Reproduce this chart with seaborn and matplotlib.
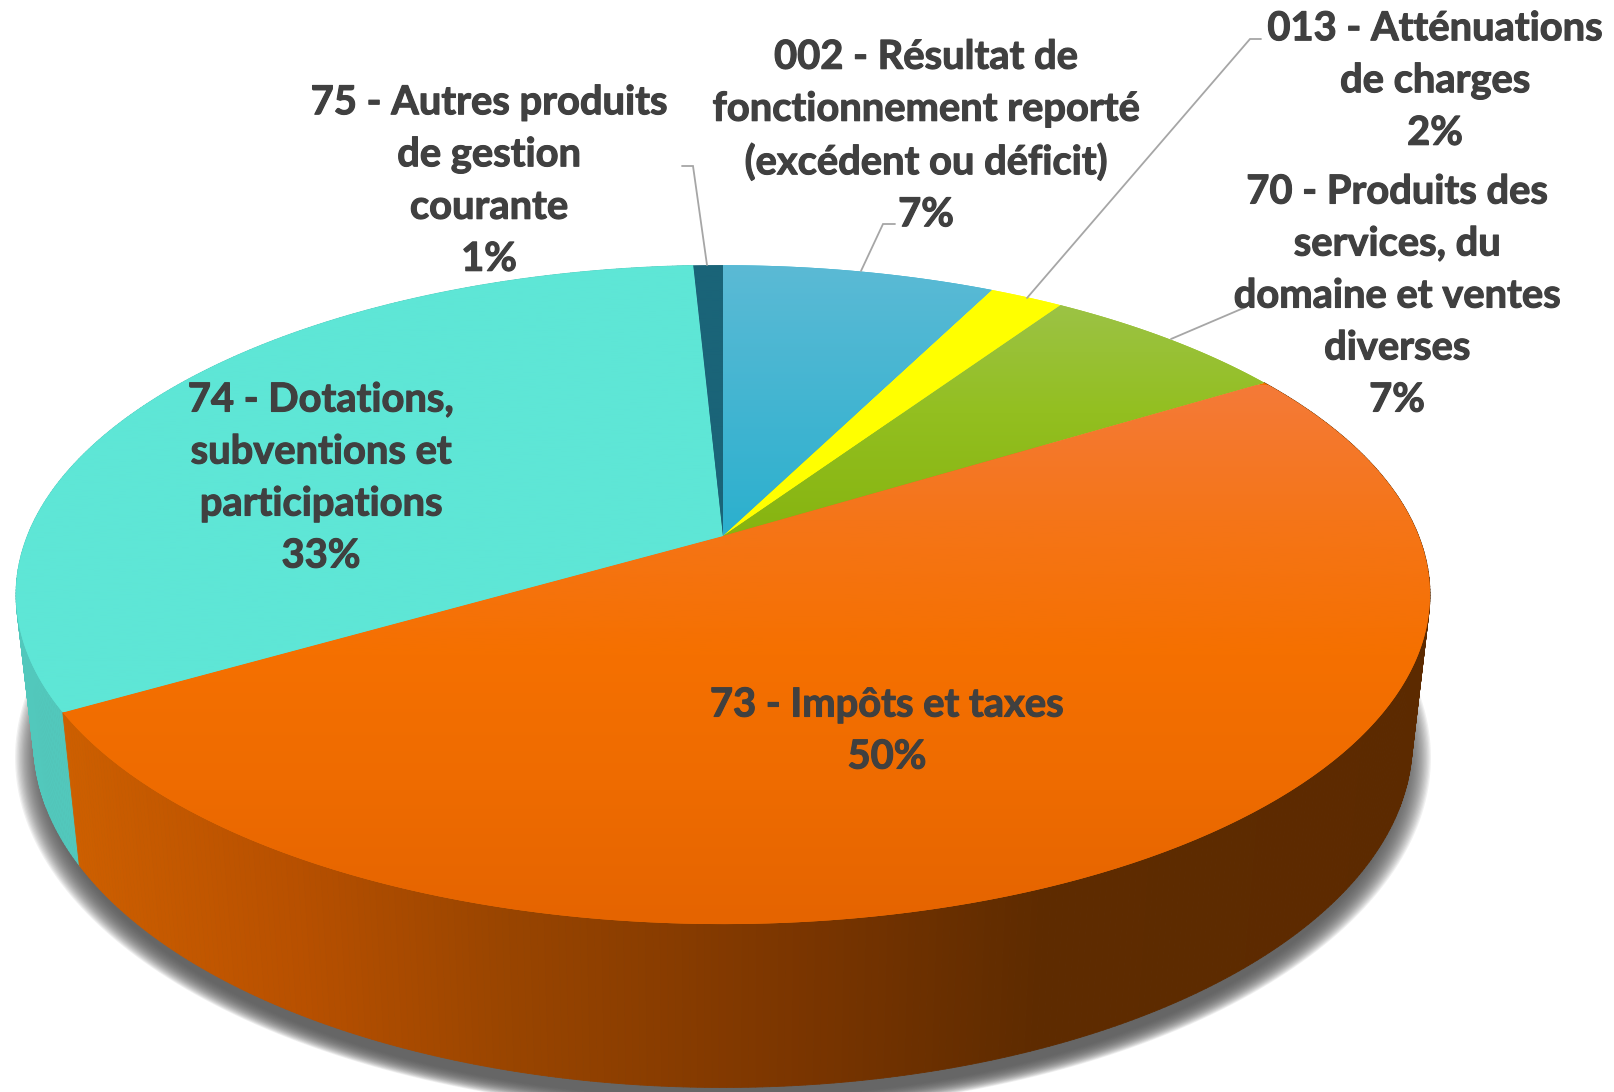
import numpy as np
import matplotlib
matplotlib.use("Agg")
import matplotlib.pyplot as plt
import matplotlib.patheffects as pe
import seaborn as sns
from matplotlib.collections import PolyCollection
from matplotlib.colors import LinearSegmentedColormap, to_rgb
from matplotlib.path import Path
from matplotlib.transforms import Transform

categories = [
    "002 - Résultat de\nfonctionnement reporté\n(excédent ou déficit)",
    "013 - Atténuations\nde charges",
    "70 - Produits des\nservices, du\ndomaine et ventes\ndiverses",
    "73 - Impôts et taxes",
    "74 - Dotations,\nsubventions et\nparticipations",
    "75 - Autres produits\nde gestion\ncourante",
]
values = [7.4, 2.0, 6.8, 50.4, 32.6, 0.8]
percent_labels = ["7%", "2%", "7%", "50%", "33%", "1%"]

label_centres = [(926, 136), (1435, 81), (1397, 296), (887, 731), (321, 478), (489, 181)]
leaders = [
    ([895, 883, 861], [224, 224, 271]),
    ([1261, 1250, 1027], [39, 39, 298]),
    ([1246, 1171], [307, 339]),
    ([682, 693, 707], [166, 166, 265]),
]
top_gradients = [
    ["#5BBAD5", "#2BB0CE"],
    ["#FFFF00", "#FFFF00"],
    ["#9DC34A", "#93BF20", "#86B410"],
    ["#F47A38", "#F57518", "#F57000", "#EE6B00", "#E56400"],
    ["#5EE6D6", "#5EE6D6"],
    ["#1A6478", "#1A6478"],
]

sns.set_theme(style="white")
plt.rcParams["font.family"] = ["Lato", "DejaVu Sans"]


class Perspective(Transform):
    input_dims = 2
    output_dims = 2
    is_affine = False
    has_inverse = False

    def __init__(self, cx, apex_y, a, b, k=0.178):
        super().__init__()
        self.cx, self.apex_y, self.a, self.b, self.k = cx, apex_y, a, b, k

    def transform_non_affine(self, values):
        v = np.asarray(values, dtype=float)
        w = 1 + self.k * v[:, 1]
        return np.column_stack([self.cx + self.a * v[:, 0] / w,
                                self.apex_y - self.b * v[:, 1] / w])

    def transform_path_non_affine(self, path):
        polys = path.transformed(matplotlib.transforms.Affine2D().scale(3000)).to_polygons(closed_only=False)
        verts = np.vstack(polys) / 3000
        return Path(self.transform_non_affine(verts))


fig, ax = plt.subplots(figsize=(16.15, 10.92), dpi=100)
ax.set_position([0, 0, 1, 1])

top = Perspective(723, 536, 695.7, 319)
bottom = Perspective(723, 680, 695.7 * 0.975, 319 * 1.05)

wedges, _ = ax.pie(values, startangle=90, counterclock=False, radius=1,
                   wedgeprops=dict(linewidth=0, zorder=5))
ax.set_aspect("auto")
ax.axis("off")

# soft shadow under the disc
t = np.radians(np.linspace(0, 360, 361))
unit = np.column_stack([np.cos(t), np.sin(t)])
for grow in np.linspace(1.027, 0.985, 24):
    pts = bottom.transform_non_affine(unit)
    pts = np.column_stack([723 + (pts[:, 0] - 723) * grow,
                           741 + (pts[:, 1] - 741) * grow + 16])
    ax.fill(pts[:, 0], pts[:, 1], color="#585858", alpha=0.085, lw=0, zorder=1)

# side wall
orange_x = [60, 300, 500, 800, 1030, 1450]
orange_c = np.array([to_rgb(c) for c in ["#CF6000", "#B85000", "#9A4500", "#7A3500", "#5E2B00", "#5C2A00"]])
quads, colours = [], []
for w, base in zip(wedges, [None, None, None, "orange", "#52C8BC", None]):
    if base is None:
        continue
    th = np.radians(np.arange(w.theta1, w.theta2 + 0.5, 0.5))
    u = np.column_stack([np.cos(th), np.sin(th)])
    pt, pb = top.transform_non_affine(u), bottom.transform_non_affine(u)
    for i in range(len(th) - 1):
        quads.append([pt[i], pt[i + 1], pb[i + 1], pb[i]])
        xm = pb[i, 0]
        if base == "orange":
            colours.append(tuple(np.interp(xm, orange_x, orange_c[:, j]) for j in range(3)))
        else:
            colours.append(to_rgb(base))
order = np.argsort([q[2][1] for q in quads])
ax.add_collection(PolyCollection([quads[i] for i in order],
                                 facecolors=[colours[i] for i in order],
                                 edgecolors=[colours[i] for i in order],
                                 linewidths=0.6, zorder=3))

# top faces with their vertical gradients
y_ext = {0: (265, 536), 1: (265, 536), 2: (290, 536), 3: (385, 925), 4: (265, 712), 5: (265, 536)}
for i, (w, grad) in enumerate(zip(wedges, top_gradients)):
    w.set_transform(top + ax.transData)
    w.set_facecolor(grad[len(grad) // 2])
    cmap = LinearSegmentedColormap.from_list(f"g{i}", grad)
    im = ax.imshow(np.linspace(0, 1, 256)[:, None], cmap=cmap, aspect="auto",
                   extent=(0, 1615, y_ext[i][1], y_ext[i][0]), zorder=6)
    im.set_clip_path(w)

# leader lines
for xs, ys in leaders:
    ax.plot(xs, ys, color="#A6A6A6", lw=1.3, zorder=7, solid_joinstyle="miter")

# labels
for name, pct, (x, y) in zip(categories, percent_labels, label_centres):
    ax.text(x, y, f"{name}\n{pct}", ha="center", va="center", fontsize=28.7,
            fontweight="bold", color="#404040", linespacing=1.5, zorder=8,
            path_effects=[pe.withStroke(linewidth=0.8, foreground="#404040")])

ax.set_xlim(0, 1615)
ax.set_ylim(1092, 0)
fig.savefig("out.png", dpi=100, facecolor="white")
